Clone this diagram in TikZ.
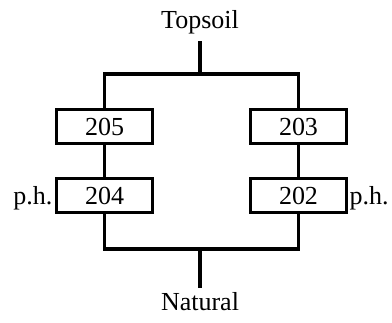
\documentclass[tikz,border=0pt]{standalone}
\usepackage{fontspec}
\setmainfont{Liberation Serif}
\usetikzlibrary{positioning}

\begin{document}
\begin{tikzpicture}[x=1pt,y=-1pt,line width=3.2pt,font=\fontsize{26}{30}\selectfont]
  \tikzstyle{layer}=[draw=black,minimum width=96pt,minimum height=34pt,inner sep=0pt]
  \tikzstyle{term}=[inner sep=0pt]

  \useasboundingbox (0,0) rectangle (392,323);

  \node[term]  (top)  at (200,22)    {Topsoil};
  \node[layer] (c205) at (104.5,126.5) {205};
  \node[layer] (c203) at (298.5,126.5) {203};
  \node[layer] (c204) at (104.5,195.5) {204};
  \node[layer] (c202) at (298.5,195.5) {202};
  \node[term]  (bot)  at (200,302)   {Natural};
  \node[term,left=1pt of c204.base west,anchor=base east]  (ph1) {p.h.};
  \node[term,right=0pt of c202.base east,anchor=base west] (ph2) {p.h.};

  % junctions above and below the two sequences
  \coordinate (jt) at (200,74);
  \coordinate (jb) at (200,249);

  \draw[shorten <=6pt] (top.south) -- (jt);
  \draw (c205.north) |- (jt) -| (c203.north);
  \draw (c205) -- (c204);
  \draw (c203) -- (c202);
  \draw (c204.south) |- (jb) -| (c202.south);
  \draw[shorten >=3pt] (jb) -- (bot.north);
\end{tikzpicture}
\end{document}
